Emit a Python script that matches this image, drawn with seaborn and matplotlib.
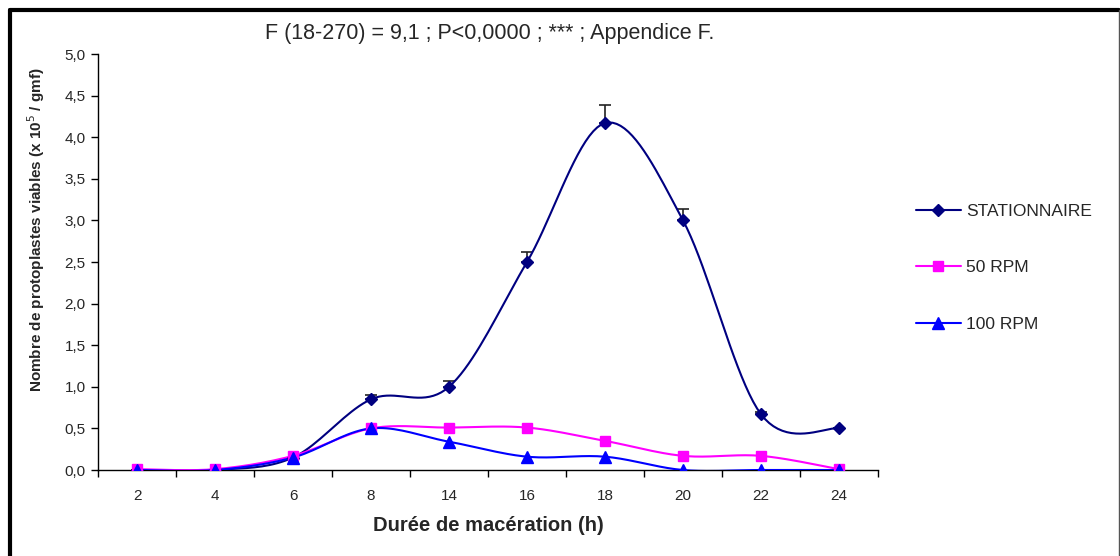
import numpy as np
import pandas as pd
import matplotlib
matplotlib.use("Agg")
import matplotlib.pyplot as plt
import seaborn as sns
from matplotlib.lines import Line2D

# data
durees = ["2", "4", "6", "8", "14", "16", "18", "20", "22", "24"]
stationnaire = [0.0, 0.0, 0.15, 0.85, 1.0, 2.5, 4.17, 3.0, 0.67, 0.5]
stationnaire_err = [0.0, 0.0, 0.0, 0.05, 0.07, 0.12, 0.22, 0.14, 0.03, 0.0]
rpm50 = [0.01, 0.01, 0.17, 0.5, 0.51, 0.51, 0.35, 0.17, 0.17, 0.01]
rpm100 = [0.0, 0.0, 0.15, 0.5, 0.34, 0.16, 0.16, 0.0, 0.0, 0.0]

series_names = ["STATIONNAIRE", "50 RPM", "100 RPM"]
series_vals = [stationnaire, rpm50, rpm100]
colors = ["#000080", "#FF00FF", "#0000FF"]
markers = ["D", "s", "^"]
msizes = [6, 7, 8]


def smooth(y, n=20):
    # Catmull-Rom curve through the points (like Excel's smoothed line)
    y = np.asarray(y, dtype=float)
    x = np.arange(len(y), dtype=float)
    px = np.concatenate([[x[0]], x, [x[-1]]])
    py = np.concatenate([[y[0]], y, [y[-1]]])
    xs, ys = [], []
    t = np.linspace(0, 1, n, endpoint=False)
    for i in range(1, len(px) - 2):
        for arr, out in ((px, xs), (py, ys)):
            p0, p1, p2, p3 = arr[i - 1], arr[i], arr[i + 1], arr[i + 2]
            out.extend(0.5 * (2 * p1 + (-p0 + p2) * t
                              + (2 * p0 - 5 * p1 + 4 * p2 - p3) * t ** 2
                              + (-p0 + 3 * p1 - 3 * p2 + p3) * t ** 3))
    xs.append(x[-1])
    ys.append(y[-1])
    return np.array(xs), np.array(ys)


sns.set_style("white")
plt.rcParams["font.family"] = ["Liberation Sans", "DejaVu Sans"]

fig = plt.figure(figsize=(11.2, 5.56), dpi=100)
ax = fig.add_axes([98 / 1120, 86 / 556, 780 / 1120, 416 / 556])

pos = np.arange(len(durees))

# error bars (upper only)
ax.errorbar(pos, stationnaire, yerr=[np.zeros(len(pos)), stationnaire_err],
            fmt="none", ecolor="#222222", elinewidth=1.2, capsize=4.5,
            capthick=1.2, zorder=2)

for name, vals, c, m, ms in zip(series_names, series_vals, colors, markers, msizes):
    sx, sy = smooth(vals)
    sns.lineplot(x=sx, y=sy, sort=False, color=c, linewidth=1.5, ax=ax,
                 estimator=None, zorder=3)
    ax.plot(pos, vals, linestyle="none", marker=m, markersize=ms, color=c,
            zorder=4)

ax.set_xlim(-0.5, len(durees) - 0.5)
ax.set_ylim(0, 5)

# ticks at category boundaries, labels at centers
ax.set_xticks(np.arange(-0.5, len(durees), 1.0))
ax.set_xticklabels([])
ax.set_xticks(pos, minor=True)
ax.set_xticklabels(durees, minor=True, fontsize=11)
ax.tick_params(axis="x", which="major", direction="out", length=5, width=1,
               color="black", bottom=True)
ax.tick_params(axis="x", which="minor", length=0, pad=14)

yt = np.arange(0, 5.01, 0.5)
ax.set_yticks(yt)
ax.set_yticklabels([f"{v:.1f}".replace(".", ",") for v in yt], fontsize=11)
ax.tick_params(axis="y", direction="out", length=5, width=1, color="black",
               left=True, pad=4)

for s in ["top", "right"]:
    ax.spines[s].set_visible(False)
for s in ["left", "bottom"]:
    ax.spines[s].set_color("black")
    ax.spines[s].set_linewidth(1)

ax.set_xlabel("Durée de macération (h)", fontsize=14.5, fontweight="bold",
              labelpad=9)
ax.set_ylabel("Nombre de protoplastes viables (x 10$^5$ / gmf)", fontsize=11,
              fontweight="bold")
ax.yaxis.set_label_coords(-0.066, 0.577)

fig.text(490 / 1120, 1 - 33 / 556,
         "F (18-270) = 9,1 ; P<0,0000 ; *** ; Appendice F.",
         ha="center", va="center", fontsize=15.5)

handles = [Line2D([], [], color=c, marker=m, markersize=ms, linewidth=1.5)
           for c, m, ms in zip(colors, markers, msizes)]
fig.legend(handles, series_names, loc="upper left",
           bbox_to_anchor=(900 / 1120, 1 - 188 / 556), frameon=False,
           fontsize=12.5, handlelength=2.6, handletextpad=0.3,
           labelspacing=2.38)

# outer frame
fig.add_artist(Line2D([10 / 1120, 10 / 1120], [0, 1 - 10 / 556],
                      transform=fig.transFigure, color="black", linewidth=3))
fig.add_artist(Line2D([10 / 1120, 1119 / 1120], [1 - 10 / 556, 1 - 10 / 556],
                      transform=fig.transFigure, color="black", linewidth=3))
fig.add_artist(Line2D([1118.5 / 1120, 1118.5 / 1120], [0, 1 - 10 / 556],
                      transform=fig.transFigure, color="#555555", linewidth=1))

fig.savefig("out.png", dpi=100)
